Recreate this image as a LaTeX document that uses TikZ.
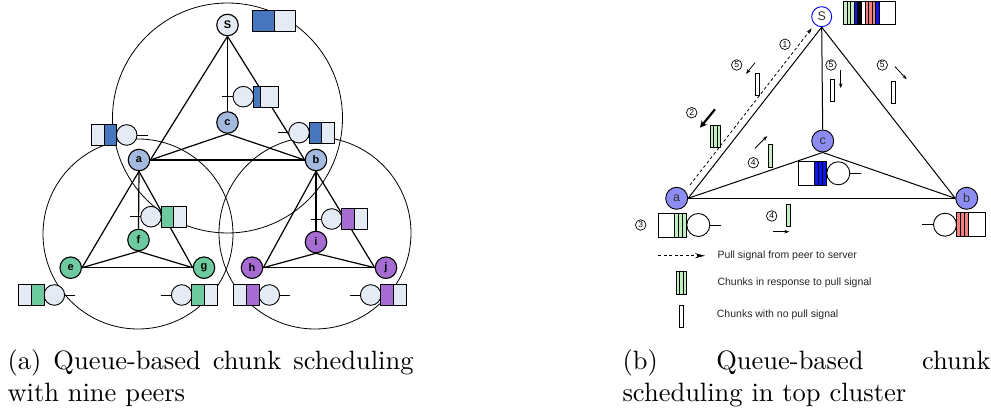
\documentclass[tikz,border=0pt]{standalone}
\usepackage{fontspec}
\setsansfont{Liberation Sans}
\usetikzlibrary{arrows.meta}

\definecolor{lightq}{HTML}{E5EBF5}
\definecolor{qblue}{HTML}{4677BF}
\definecolor{topnode}{HTML}{A3BADE}
\definecolor{grn}{HTML}{6DC9A0}
\definecolor{purp}{HTML}{A76CD2}
\definecolor{rnode}{HTML}{8C8CF2}
\definecolor{lgreen}{HTML}{C3EFC0}
\definecolor{lred}{HTML}{F08080}
\definecolor{sblue}{HTML}{0A14F0}

\tikzset{
  peer/.style={circle,draw,line width=1.1pt,minimum size=21.5pt,inner sep=0pt,
    font=\sffamily\bfseries\fontsize{11pt}{12pt}\selectfont},
  edge/.style={line width=1.2pt},
  qline/.style={line width=0.9pt},
  cluster/.style={line width=0.8pt},
  tpeer/.style={circle,draw,line width=0.9pt,minimum size=22pt,inner sep=0pt,fill=rnode,
    text=black!80,font=\sffamily\fontsize{12.5pt}{13pt}\selectfont},
  tedge/.style={line width=1pt},
  stepno/.style={circle,draw,line width=0.7pt,minimum size=10.5pt,inner sep=0pt,
    font=\sffamily\fontsize{8.5pt}{9pt}\selectfont},
  chunk/.style={draw,line width=0.7pt,minimum width=4pt,minimum height=22.5pt,inner sep=0pt,fill=white},
  move/.style={line width=0.8pt,-{Stealth[length=5pt,width=3.5pt]}},
  legtext/.style={anchor=west,inner sep=0pt,text=black!85,font=\sffamily\fontsize{10.5pt}{12pt}\selectfont},
  caption/.style={anchor=base west,inner sep=0pt,scale=2.65},
  pics/peerq/.style n args={2}{code={
      \draw[qline] (-21,0) -- (-10.3,0);
      \draw[qline,fill=lightq] (0,0) circle[radius=10.3];
      \draw[qline,fill=lightq] (10,-10.5) rectangle (35.5,10.5);
      \draw[qline,fill=#1] (10,-10.5) rectangle (#2,10.5);
  }},
  pics/srvq/.style={code={
      \draw[qline] (-23,0) -- (-11.5,0);
      \draw[qline,fill=white] (0,0) circle[radius=11.5];
      \draw[qline,fill=white] (11.5,-12) rectangle (40,12);
      \foreach \k in {0,1,2}
        \draw[qline,fill=#1] (11.5+4*\k,-12) rectangle (15.5+4*\k,12);
  }},
  pics/pullchunk/.style={code={
      \foreach \k in {0,1,2}
        \draw[line width=0.7pt,fill=lgreen] (3.6*\k,0) rectangle +(3.6,22.5);
  }},
}

\begin{document}
\begin{tikzpicture}[x=1pt,y=-1pt]
  \useasboundingbox (0,0) rectangle (991,411);

  % (a) nine peers
  \draw[cluster] (227.5,118) circle[radius=115];
  \draw[cluster] (138,234) circle[radius=95];
  \draw[cluster] (315,233) circle[radius=96];

  \node[peer,fill=lightq]  (S) at (227.5,25)  {S};
  \node[peer,fill=topnode] (c) at (227.5,122.5) {c};
  \node[peer,fill=topnode] (a) at (139,160)   {a};
  \node[peer,fill=topnode] (b) at (316,160)   {b};
  \node[peer,fill=grn]     (f) at (138.5,240) {f};
  \node[peer,fill=grn]     (e) at (70.7,267.7) {e};
  \node[peer,fill=grn]     (g) at (204,267.7) {g};
  \node[peer,fill=purp]    (i) at (316,242)   {i};
  \node[peer,fill=purp]    (h) at (252,267.7) {h};
  \node[peer,fill=purp]    (j) at (386,267.7) {j};

  \draw[edge] (S.south) -- (a.east);
  \draw[edge] (S.south) -- (b.west);
  \draw[edge] (S.south) -- (c.north);
  \draw[edge] (c.south) -- (a.east);
  \draw[edge] (c.south) -- (b.west);
  \draw[edge] (a.east) -- (b.west);
  \draw[edge] (a.south) -- (e.east);
  \draw[edge] (a.south) -- (g.west);
  \draw[edge] (a.south) -- (f.north);
  \draw[edge] (f.south) -- (e.east);
  \draw[edge] (f.south) -- (g.west);
  \draw[edge] (e.east) -- (g.west);
  \draw[edge] (b.south) -- (h.east);
  \draw[edge] (b.south) -- (j.west);
  \draw[edge] (b.south) -- (i.north);
  \draw[edge] (i.south) -- (h.east);
  \draw[edge] (i.south) -- (j.west);
  \draw[edge] (h.east) -- (j.west);

  \draw[qline,fill=lightq] (252.7,10.7) rectangle (295,31.3);
  \draw[qline,fill=qblue]  (252.7,10.7) rectangle (274,31.3);
  \pic at (243.3,96.7) {peerq={qblue}{17.4}};
  \pic at (299,132.7) {peerq={qblue}{22.5}};
  \pic[xscale=-1] at (126.7,135) {peerq={qblue}{22.5}};
  \pic at (151,216.7) {peerq={grn}{22.5}};
  \pic at (331.7,219) {peerq={purp}{22.5}};
  \pic[xscale=-1] at (54.3,295) {peerq={grn}{22.5}};
  \pic at (181.7,295) {peerq={grn}{22.5}};
  \pic[xscale=-1] at (269.3,295) {peerq={purp}{22.5}};
  \pic at (370.7,295) {peerq={purp}{22.5}};

  % (b) top cluster
  \node[tpeer,fill=white,draw=blue,minimum size=20pt] (ts) at (821.7,16.7) {S};
  \node[tpeer] (tc) at (822.7,141)   {c};
  \node[tpeer] (ta) at (676.7,198.3) {a};
  \node[tpeer] (tb) at (966.7,198.3) {b};

  \draw[tedge] (ts.south) -- (ta.east);
  \draw[tedge] (ts.south) -- (tb.west);
  \draw[tedge] (ts.south) -- (tc.north);
  \draw[tedge] (tc.south) -- (ta.east);
  \draw[tedge] (tc.south) -- (tb.west);
  \draw[tedge] (ta.east) -- (tb.west);

  \draw[qline,fill=white] (843.3,1.7) rectangle (895,24);
  \foreach \col [count=\k from 0] in {lgreen,lgreen,lgreen,sblue,black,white,lred,lred,lred,sblue}
    \draw[line width=0.6pt,fill=\col] (843.3+3.6*\k,1.7) rectangle +(3.6,22.3);
  \draw[qline] (843.3,1.7) rectangle (895,24);

  \pic[xscale=-1] at (698.3,225) {srvq=lgreen};
  \pic[xscale=-1] at (838.3,173.3) {srvq=sblue};
  \pic at (945,224.7) {srvq=lred};

  \coordinate (pullfrom) at (690,185);
  \coordinate (pullto)   at (811.7,28.3);
  \draw[line width=0.8pt,dash pattern=on 3pt off 2.5pt,-{Stealth[length=6pt,width=4pt]}] (pullfrom) -- (pullto);

  \node[stepno] (n1)  at (785,44.3)   {1};
  \node[stepno] (n2)  at (691.7,112.7) {2};
  \node[stepno] (n3)  at (640.7,225)  {3};
  \node[stepno] (n4a) at (753.3,162.7) {4};
  \node[stepno] (n4b) at (771.7,216)  {4};
  \node[stepno] (n5a) at (736.7,65)   {5};
  \node[stepno] (n5b) at (831,65)     {5};
  \node[stepno] (n5c) at (882.3,65)   {5};

  \node[chunk] (ch5a) at (757.5,84.2) {};
  \node[chunk] (ch5b) at (831.9,90.3) {};
  \node[chunk] (ch5c) at (893.7,92.5) {};
  \node[chunk,fill=lgreen] (ch4a) at (770.3,155.8) {};
  \node[chunk,fill=lgreen] (ch4b) at (788.7,215.5) {};
  \pic at (710,125) {pullchunk};

  \draw[move] (755,62.7) -- (746,74);
  \draw[move] (840.7,70) -- (840.7,88.3);
  \draw[move] (895,66.7) -- (906.7,79.3);
  \draw[line width=2.2pt,-{Stealth[length=7pt,width=7pt]}] (715,109.3) -- (700,127.7);
  \draw[move] (755,148.3) -- (767.3,136);
  \draw[move] (773.3,231.7) -- (789.3,231.7);

  % legend
  \draw[line width=0.8pt,dash pattern=on 3pt off 2.5pt,-{Stealth[length=10pt,width=5pt]}] (658.3,255.7) -- (705,255.7);
  \node[legtext] (leg1) at (717.3,255.7) {Pull signal from peer to server};
  \pic at (676,271.7) {pullchunk};
  \node[legtext] (leg2) at (717.3,282.3) {Chunks in response to pull signal};
  \node[chunk] (legch) at (681.3,316.3) {};
  \node[legtext] (leg3) at (716.7,314.3) {Chunks with no pull signal};

  % captions
  \node[caption] (capa) at (7,370) {\parbox[t]{153.2pt}{\hyphenpenalty=10000\tolerance=10000
    (a) Queue-based chunk scheduling with nine peers}};
  \node[caption] (capb) at (622,370) {\parbox[t]{138.9pt}{\hyphenpenalty=10000\tolerance=10000
    (b) Queue-based chunk scheduling in top cluster}};
\end{tikzpicture}
\end{document}
